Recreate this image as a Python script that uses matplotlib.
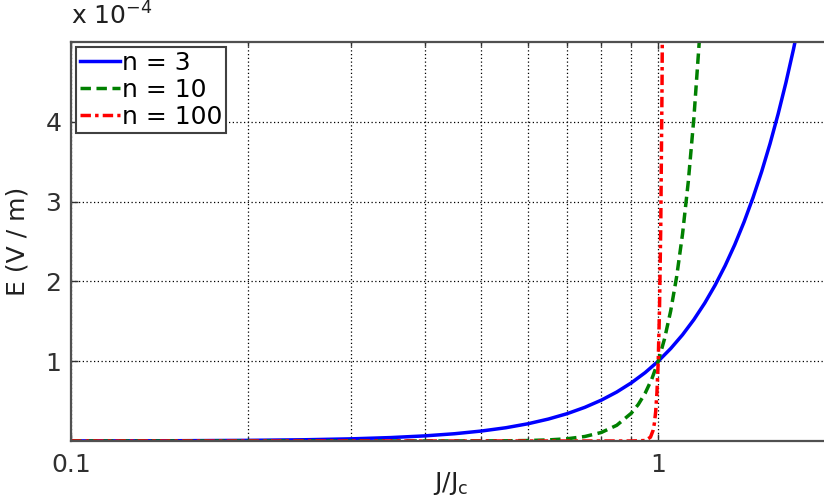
import matplotlib.pyplot as plt
import numpy as np

# J/Jc sample points and E (V/m)
j_n3 = [0.1, 0.15, 0.2, 0.25, 0.3, 0.35, 0.4, 0.45, 0.5, 0.55, 0.6, 0.65, 0.7, 0.75, 0.8,
        0.85, 0.9, 0.95, 1.0, 1.05, 1.1, 1.15, 1.2, 1.25, 1.3, 1.35, 1.4, 1.45, 1.5,
        1.55, 1.6, 1.65, 1.7, 1.75, 1.8]
e_n3 = [1.0e-7, 3.4e-7, 8.0e-7, 1.56e-6, 2.7e-6, 4.29e-6, 6.4e-6, 9.11e-6, 1.25e-5, 1.66e-5,
        2.16e-5, 2.75e-5, 3.43e-5, 4.22e-5, 5.12e-5, 6.14e-5, 7.29e-5, 8.57e-5, 1.0e-4,
        1.158e-4, 1.331e-4, 1.521e-4, 1.728e-4, 1.953e-4, 2.197e-4, 2.46e-4, 2.744e-4,
        3.049e-4, 3.375e-4, 3.724e-4, 4.096e-4, 4.492e-4, 4.913e-4, 5.359e-4, 5.832e-4]

j_n10 = [0.1, 0.3, 0.5, 0.55, 0.6, 0.65, 0.7, 0.75, 0.8, 0.85, 0.9, 0.925, 0.95, 0.975,
         1.0, 1.025, 1.05, 1.075, 1.1, 1.125, 1.15, 1.175, 1.2]
e_n10 = [0.0, 0.0, 9.8e-8, 2.5e-7, 6.0e-7, 1.35e-6, 2.82e-6, 5.63e-6, 1.07e-5, 1.97e-5,
         3.49e-5, 4.59e-5, 5.99e-5, 7.76e-5, 1.0e-4, 1.28e-4, 1.629e-4, 2.061e-4,
         2.594e-4, 3.247e-4, 4.046e-4, 5.02e-4, 6.19e-4]

j_n100 = [0.1, 0.5, 0.9, 0.95, 0.97, 0.98, 0.985, 0.99, 0.995, 1.0, 1.005, 1.01, 1.015, 1.02]
e_n100 = [0.0, 0.0, 2.7e-9, 5.9e-7, 4.76e-6, 1.326e-5, 2.21e-5, 3.66e-5, 6.06e-5, 1.0e-4,
          1.647e-4, 2.705e-4, 4.43e-4, 7.24e-4]

labels = ['n = 3', 'n = 10', 'n = 100']
yticks = [1, 2, 3, 4]

plt.rcParams['font.family'] = ['DejaVu Sans']
plt.rcParams['mathtext.fontset'] = 'dejavusans'
FS = 18

fig = plt.figure(figsize=(8.24, 4.99), dpi=100)
W, H = 824, 499
ax = fig.add_axes([71 / W, 1 - 441 / H, (835 - 71) / W, (441 - 42) / H])

scale = 1e4
ax.plot(j_n3, np.array(e_n3) * scale, color='#0000ff', lw=2.5, label=labels[0])
ax.plot(j_n10, np.array(e_n10) * scale, color='#008000', lw=2.5, ls=(0, (3, 1.6)), label=labels[1])
ax.plot(j_n100, np.array(e_n100) * scale, color='#ff0000', lw=2.5,
        ls=(0, (3, 1.2, 1, 1.2)), label=labels[2])

ax.set_xscale('log')
ax.set_xlim(0.1, 2.0)
ax.set_ylim(0, 5)
ax.set_xticks([0.1, 1])
ax.set_xticklabels(['0.1', '1'])
ax.set_xticks([0.2, 0.3, 0.4, 0.5, 0.6, 0.7, 0.8, 0.9], minor=True)
ax.set_xticklabels([], minor=True)
ax.set_yticks(yticks)
ax.set_yticklabels([str(t) for t in yticks])

grid_style = dict(color='black', lw=0.9, ls=(0, (1, 2)))
ax.grid(True, which='major', axis='both', **grid_style)
ax.grid(True, which='minor', axis='x', **grid_style)

ax.tick_params(which='both', direction='in', top=True, right=False, labelsize=FS,
               length=5, width=1, colors='#303030', pad=9)
ax.tick_params(axis='y', pad=7)
ax.tick_params(which='minor', length=3)
for s in ax.spines.values():
    s.set_color('#505050')
    s.set_linewidth(1.6)
ax.spines['right'].set_visible(False)

ax.text(0.0, 1.03, r'x 10$^{-4}$', transform=ax.transAxes, fontsize=FS, ha='left', va='bottom',
        color='#202020')

ax.set_ylabel('E (V / m)', fontsize=FS, color='#202020')
ax.yaxis.set_label_coords(-0.054, 0.5)
ax.set_xlabel('J/J$_\\mathregular{c}$', fontsize=FS, color='#202020')
ax.xaxis.set_label_coords(0.497, -0.072)
ax.xaxis.label.set_va('top')

leg = ax.legend(loc='upper left', fontsize=FS, handlelength=1.6, handletextpad=0.1,
                borderaxespad=0.2, borderpad=0.15, labelspacing=0.12, fancybox=False,
                framealpha=1)
leg.get_frame().set_edgecolor('#404040')
leg.get_frame().set_linewidth(1.5)

fig.savefig('out.png', dpi=100)
